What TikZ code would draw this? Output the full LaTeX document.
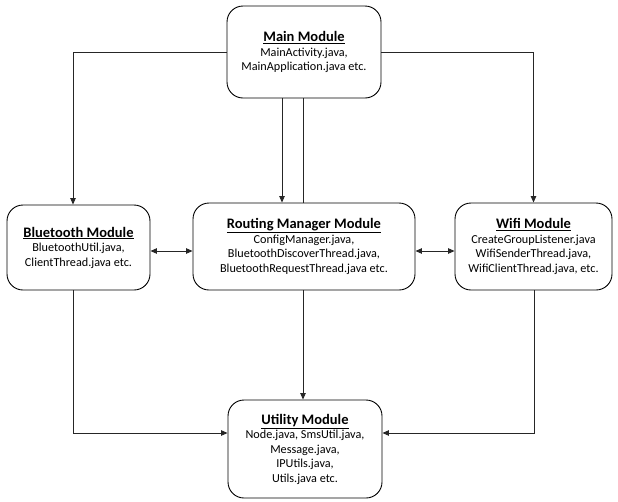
\documentclass[tikz,border=0pt]{standalone}
\usepackage{fontspec}
\setmainfont{Carlito}
\usetikzlibrary{arrows.meta,positioning,calc}

\begin{document}
\begin{tikzpicture}[x=1pt, y=-1pt,
  modbox/.style={draw=black, fill=white, rounded corners=16pt, line width=0.9pt, align=center, font=\fontsize{12.2}{14.5}\selectfont},
  link/.style={-{Triangle[length=6.5pt,width=5.5pt]}, line width=0.9pt, black!85},
  plainlink/.style={line width=0.9pt, black!85},
  duallink/.style={{Triangle[length=6.5pt,width=5.5pt]}-{Triangle[length=6.5pt,width=5.5pt]}, line width=0.9pt, black!85}
]
  \useasboundingbox (0,0) rectangle (618,501);

  %% Module boxes
  \node[modbox, minimum width=154pt, minimum height=92pt] (main) at (304,52)
    {{\fontsize{14.5}{17.5}\selectfont\bfseries\underline{Main Module}}\\MainActivity.java,\\MainApplication.java etc.};
  \node[modbox, minimum width=143pt, minimum height=85pt] (bt) at (78.5,247.5)
    {{\fontsize{14.5}{17.5}\selectfont\bfseries\underline{Bluetooth Module}}\\BluetoothUtil.java,\\ClientThread.java etc.};
  \node[modbox, minimum width=222pt, minimum height=87pt] (rm) at (304,246.5)
    {{\fontsize{14.5}{17.5}\selectfont\bfseries\underline{Routing Manager Module}}\\ConfigManager.java,\\BluetoothDiscoverThread.java,\\BluetoothRequestThread.java etc.};
  \node[modbox, minimum width=157pt, minimum height=87pt] (wifi) at (533.5,246.5)
    {{\fontsize{14.5}{17.5}\selectfont\bfseries\underline{Wifi Module}}\\CreateGroupListener.java\\WifiSenderThread.java,\\WifiClientThread.java, etc.};
  \node[modbox, minimum width=154pt, minimum height=98pt] (util) at (305,449)
    {{\fontsize{14.5}{17.5}\selectfont\bfseries\underline{Utility Module}}\\Node.java, SmsUtil.java,\\Message.java,\\IPUtils.java,\\Utils.java etc.};

  %% Main module links
  \draw[link] (main.west) -| ([xshift=-5.5pt]bt.north);
  \draw[link] (main.east) -| (wifi.north);
  \draw[link] ([xshift=-22pt]main.south) -- ([xshift=-22pt]rm.north);
  \draw[plainlink] ([xshift=-1pt]main.south) -- ([xshift=-1pt]rm.north);

  %% Routing manager links
  \draw[duallink] (bt.east |- 0,251) -- (rm.west |- 0,251);
  \draw[duallink] (rm.east |- 0,251) -- (wifi.west |- 0,251);
  \draw[link] ([xshift=-1pt]rm.south) -- ([xshift=-2pt]util.north);

  %% Links into utility module
  \draw[link] ([xshift=-5.5pt]bt.south) |- (util.west |- 0,433);
  \draw[link] ([xshift=1pt]wifi.south) |- (util.east |- 0,433);
\end{tikzpicture}
\end{document}
